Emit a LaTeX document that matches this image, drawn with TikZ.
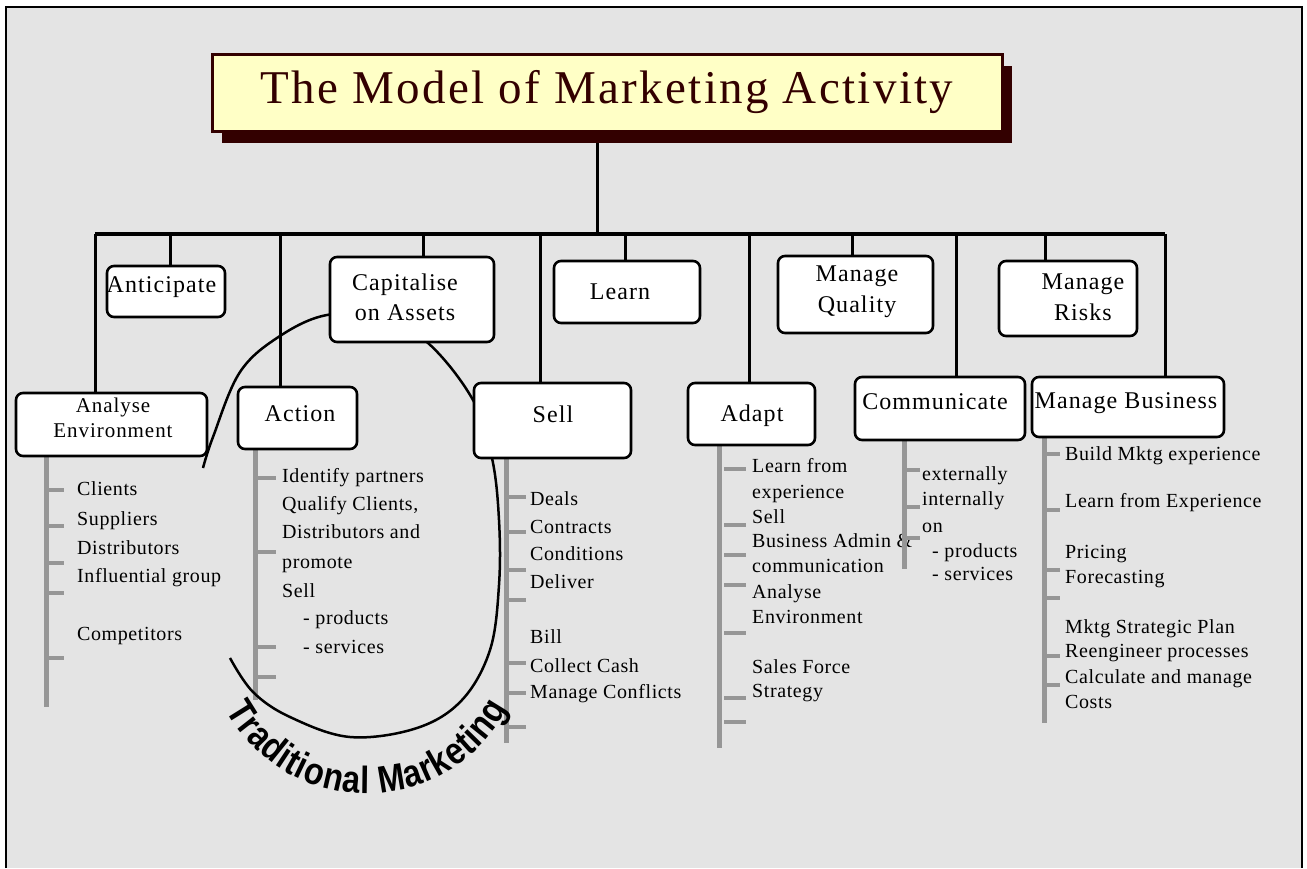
\documentclass[tikz,border=0pt]{standalone}
\usepackage{fontspec}
\setmainfont{Liberation Serif}
\newfontfamily\titlefam[LetterSpace=5]{Liberation Serif}
\newfontfamily\boxfam[LetterSpace=4.5]{Liberation Serif}
\newfontfamily\listfam[LetterSpace=3]{Liberation Serif}
\newfontfamily\tradfam[FakeStretch=0.85]{Liberation Sans}
\usetikzlibrary{decorations.text,shadows}
\pgfdeclarelayer{bg}
\pgfdeclarelayer{mid}
\pgfsetlayers{bg,mid,main}
\definecolor{bggray}{HTML}{E4E4E4}
\definecolor{listgray}{HTML}{969696}
\definecolor{titledark}{HTML}{330000}
\definecolor{titlefill}{HTML}{FFFFC6}
\begin{document}
\begin{tikzpicture}[x=1pt,y=-1pt,
  box/.style={draw, line width=2.6pt, rounded corners=7pt, fill=white, inner sep=0pt},
  boxtext/.style={align=center, inner sep=0pt, font=\boxfam\fontsize{24}{30}\selectfont},
  conn/.style={line width=3pt},
  barline/.style={line width=4.5pt},
  glist/.style={draw=listgray, line width=5pt},
  gtick/.style={draw=listgray, line width=3.5pt},
  item/.style={anchor=base west, inner sep=0pt, font=\listfam\fontsize{20}{25}\selectfont},
  tmcurve/.style={line width=2.5pt},
]
\useasboundingbox (0,0) rectangle (1307,868);
\begin{pgfonlayer}{bg}
  \fill[white] (0,0) rectangle (1307,868);
  \fill[bggray] (6,7) rectangle (1302,868);
  \draw[line width=2.2pt] (6,868) -- (6,7) -- (1302,7) -- (1302,868);
\end{pgfonlayer}

% title
\node[draw=titledark, line width=3pt, fill=titlefill, minimum width=790pt, minimum height=77pt,
      inner sep=0pt, text=titledark, font=\titlefam\fontsize{47}{50}\selectfont,
      drop shadow={shadow xshift=10pt, shadow yshift=-12pt, fill=titledark, opacity=1}]
      (title) at (607,92.5) {The Model of Marketing Activity};

% boxes
\node[box, minimum width=118pt, minimum height=51pt] (anticipate) at (166,291.5) {};
\node[box, minimum width=164pt, minimum height=85pt] (capital) at (412,299.5) {};
\node[box, minimum width=146pt, minimum height=62pt] (learn) at (627,292) {};
\node[box, minimum width=155pt, minimum height=77pt] (quality) at (855.5,294.5) {};
\node[box, minimum width=138pt, minimum height=75pt] (risks) at (1068,298.5) {};
\node[box, minimum width=191pt, minimum height=63pt] (analyse) at (111.5,424.5) {};
\node[box, minimum width=119pt, minimum height=62pt] (action) at (297.5,418) {};
\node[box, minimum width=157pt, minimum height=75pt] (sell) at (552.5,420.5) {};
\node[box, minimum width=127pt, minimum height=62pt] (adapt) at (751.5,414) {};
\node[box, minimum width=170pt, minimum height=63pt] (comm) at (940,408.5) {};
\node[box, minimum width=192pt, minimum height=60pt] (business) at (1128,407) {};

% box texts
\node[boxtext] (anticipate-t) at (161.5,287) {Anticipate};
\node[boxtext] (capital-t) at (405,297.5) {Capitalise\\on Assets};
\node[boxtext] (learn-t) at (620,292) {Learn};
\node[boxtext, font=\boxfam\fontsize{24}{31}\selectfont] (quality-t) at (857,291.5) {Manage\\Quality};
\node[boxtext, font=\boxfam\fontsize{24}{31}\selectfont] (risks-t) at (1083,297.5) {Manage\\Risks};
\node[boxtext, font=\boxfam\fontsize{21}{25}\selectfont] (analyse-t) at (113,418) {Analyse\\Environment};
\node[boxtext] (action-t) at (300,413.5) {Action};
\node[boxtext] (sell-t) at (553,414.5) {Sell};
\node[boxtext] (adapt-t) at (752,416) {Adapt};
\node[boxtext] (comm-t) at (935,402) {Communicate};
\node[boxtext] (business-t) at (1126,403) {Manage Business};

\coordinate (barL) at (95,234);
\coordinate (barR) at (1165,234);
\coordinate (tj) at (597,234);

\begin{pgfonlayer}{mid}
  % tree connectors
  \draw[conn] (title.south -| tj) -- (tj);
  \draw[barline] (barL) -- (barR);
  \draw[conn] (95,234) -- (95,234 |- analyse.north);
  \draw[conn] (170,234) -- (170,234 |- anticipate.north);
  \draw[conn] (280,234) -- (280,234 |- action.north);
  \draw[conn] (423,234) -- (423,234 |- capital.north);
  \draw[conn] (540,234) -- (540,234 |- sell.north);
  \draw[conn] (625,234) -- (625,234 |- learn.north);
  \draw[conn] (749,234) -- (749,234 |- adapt.north);
  \draw[conn] (852,234) -- (852,234 |- quality.north);
  \draw[conn] (956,234) -- (956,234 |- comm.north);
  \draw[conn] (1045,234) -- (1045,234 |- risks.north);
  \draw[conn] (1165,234) -- (1165,234 |- business.north);

  % list texts
  \foreach \x/\y/\t [count=\i] in {77/495/Clients, 77/525/Suppliers, 77/554/Distributors,
      77/582/{Influential group}, 77/640/Competitors}
    \node[item] (ae\i) at (\x,\y) {\t};
  \foreach \x/\y/\t [count=\i] in {282/482/{Identify partners}, 282/510/{Qualify Clients,},
      282/538/{Distributors and}, 282/568/promote, 282/597/Sell, 303/624/{- products}, 303/653/{- services}}
    \node[item] (ac\i) at (\x,\y) {\t};
  \foreach \x/\y/\t [count=\i] in {530/505/Deals, 530/533/Contracts, 530/560/Conditions, 530/588/Deliver,
      530/643/Bill, 530/672/{Collect Cash}, 530/698/{Manage Conflicts}}
    \node[item] (se\i) at (\x,\y) {\t};
  \foreach \x/\y/\t [count=\i] in {752/472/{Learn from}, 752/498/experience, 752/523/Sell,
      752/547/{Business Admin \&}, 752/572/communication, 752/598/Analyse, 752/623/Environment,
      752/673/{Sales Force}, 752/697/Strategy}
    \node[item] (ad\i) at (\x,\y) {\t};
  \foreach \x/\y/\t [count=\i] in {922/480/externally, 922/505/internally, 922/532/on,
      932/557/{- products}, 932/580/{- services}}
    \node[item] (co\i) at (\x,\y) {\t};
  \foreach \x/\y/\t [count=\i] in {1065/460/{Build Mktg experience}, 1065/507/{Learn from Experience},
      1065/558/Pricing, 1065/583/Forecasting, 1065/633/{Mktg Strategic Plan},
      1065/657/{Reengineer processes}, 1065/683/{Calculate and manage}, 1065/708/Costs}
    \node[item] (bu\i) at (\x,\y) {\t};

  % gray list stems and ticks
  \draw[glist] (46,0 |- analyse.south) -- (46,707);
  \foreach \y in {490,526,563,593,658} \draw[gtick] (46,\y) -- (64,\y);
  \draw[glist] (255,0 |- action.south) -- (255,700);
  \foreach \y in {478,552,647,677} \draw[gtick] (255,\y) -- (276,\y);
  \draw[glist] (506,0 |- sell.south) -- (506,743);
  \foreach \y in {497,532,570,600,663,693,727} \draw[gtick] (506,\y) -- (526,\y);
  \draw[glist] (719,0 |- adapt.south) -- (719,748);
  \foreach \y in {469,525,555,585,633,698,722} \draw[gtick] (724,\y) -- (746,\y);
  \draw[glist] (904,0 |- comm.south) -- (904,569);
  \foreach \y in {470,507,538} \draw[gtick] (904,\y) -- (920,\y);
  \draw[glist] (1044,0 |- business.south) -- (1044,723);
  \foreach \y in {454,510,570,598,656,685} \draw[gtick] (1044,\y) -- (1060,\y);

  % Traditional marketing loop
  \draw[tmcurve] plot[smooth, tension=0.6] coordinates {(230,658) (253,692) (290,717) (350,737)
      (417,728) (462,700) (490,650) (499,585) (499,520) (492,458) (473,400) (428,343) (380,318)
      (327,315) (280,336) (240,372) (213,437) (203,468)};
  \coordinate (tmstart) at (226,710);
  \path[decorate, decoration={text along path, text align={fit to path},
      text={|\tradfam\bfseries\fontsize{38}{38}\selectfont|Traditional Marketing}}]
      (tmstart) arc[start angle=151.5, end angle=28, radius=160];
\end{pgfonlayer}
\end{tikzpicture}
\end{document}
